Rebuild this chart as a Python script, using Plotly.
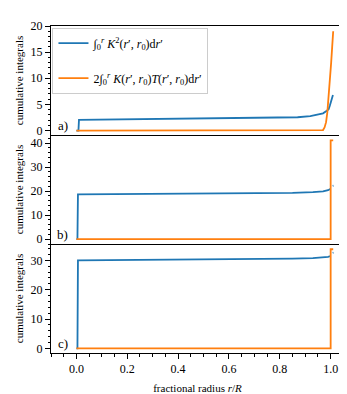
import plotly.graph_objects as go
from plotly.subplots import make_subplots

AZUL = "#1f77b4"
NARANJA = "#ff7f0e"
FUENTE = "Times New Roman, Liberation Serif, serif"

# panel a)
xa_k2 = [0.0, 0.008, 0.01, 0.1, 0.3, 0.5, 0.7, 0.8, 0.87, 0.92, 0.95, 0.97, 0.985, 0.992, 0.997, 1.003, 1.009]
ya_k2 = [0.0, 0.0, 2.05, 2.1, 2.2, 2.3, 2.4, 2.45, 2.55, 2.75, 3.0, 3.3, 3.8, 4.1, 4.8, 6.0, 6.8]
xa_kt = [0.0, 0.962, 0.97, 0.976, 0.982, 0.987, 0.992, 0.997, 1.002, 1.006, 1.01]
ya_kt = [0.0, 0.0, 0.1, 0.6, 1.6, 3.5, 6.2, 9.5, 13.0, 16.0, 19.0]

# panel b)
xb_k2 = [0.0, 0.004, 0.006, 0.1, 0.3, 0.5, 0.7, 0.85, 0.93, 0.97, 0.99, 1.0, None, 1.008, 1.011]
yb_k2 = [0.0, 0.0, 18.7, 18.75, 18.85, 18.95, 19.1, 19.3, 19.6, 19.9, 20.4, 21.0, None, 22.2, 22.3]
xb_kt = [0.0, 0.998, 1.0, 1.0, 1.01]
yb_kt = [0.0, 0.0, 0.0, 41.2, 41.2]

# panel c)
xc_k2 = [0.0, 0.004, 0.006, 0.1, 0.3, 0.5, 0.7, 0.85, 0.93, 0.97, 0.99, 1.0, None, 1.008, 1.011]
yc_k2 = [0.0, 0.0, 30.0, 30.05, 30.15, 30.25, 30.4, 30.6, 30.8, 31.0, 31.2, 31.5, None, 32.6, 32.7]
xc_kt = [0.0, 0.998, 1.0, 1.0, 1.01]
yc_kt = [0.0, 0.0, 0.0, 33.8, 33.8]

ETIQ_K2 = "∫<sub>0</sub><sup><i>r</i></sup> <i>K</i><sup>2</sup>(<i>r</i>′, <i>r</i><sub>0</sub>)d<i>r</i>′"
ETIQ_KT = ("2∫<sub>0</sub><sup><i>r</i></sup> <i>K</i>(<i>r</i>′, <i>r</i><sub>0</sub>)"
           "<i>T</i>(<i>r</i>′, <i>r</i><sub>0</sub>)d<i>r</i>′")

paneles = [
    (xa_k2, ya_k2, xa_kt, ya_kt, [-0.85, 20.0], 5, 1, "a)"),
    (xb_k2, yb_k2, xb_kt, yb_kt, [-2.0, 43.4], 10, 2, "b)"),
    (xc_k2, yc_k2, xc_kt, yc_kt, [-1.6, 35.6], 10, 2, "c)"),
]

fig = make_subplots(rows=3, cols=1, shared_xaxes=True, vertical_spacing=0)

for i, (x1, y1, x2, y2, rango, paso, menor, letra) in enumerate(paneles, start=1):
    fig.add_trace(go.Scatter(x=x1, y=y1, mode="lines", line=dict(color=AZUL, width=1.8),
                             name=ETIQ_K2, legendgroup="k2", showlegend=(i == 1)),
                  row=i, col=1)
    fig.add_trace(go.Scatter(x=x2, y=y2, mode="lines", line=dict(color=NARANJA, width=1.8),
                             name=ETIQ_KT, legendgroup="kt", showlegend=(i == 1)),
                  row=i, col=1)
    fig.update_yaxes(range=rango, dtick=paso, ticks="outside", ticklen=5, tickwidth=1,
                     tickcolor="black",
                     minor=dict(dtick=menor, ticks="outside", ticklen=2.5, tickwidth=1,
                                tickcolor="black"),
                     title=dict(text="cumulative integrals", font=dict(size=11), standoff=4),
                     row=i, col=1)
    fig.update_xaxes(mirror=(i == 1), row=i, col=1)
    fig.add_annotation(x=0.04, y=0.09, xref=f"x{'' if i == 1 else i} domain",
                       yref=f"y{'' if i == 1 else i} domain", text=letra, showarrow=False,
                       xanchor="center", yanchor="middle", font=dict(size=13))

fig.update_xaxes(range=[-0.1, 1.0525], showline=True, linecolor="black", linewidth=1,
                 showgrid=False, zeroline=False, ticks="", showticklabels=False)
fig.update_xaxes(ticks="outside", ticklen=5, tickwidth=1, tickcolor="black", dtick=0.2,
                 tickformat=".1f", showticklabels=True,
                 minor=dict(dtick=0.05, ticks="outside", ticklen=3, tickwidth=1,
                            tickcolor="black"),
                 title=dict(text="fractional radius <i>r</i>/<i>R</i>", font=dict(size=11), standoff=8),
                 row=3, col=1)
fig.update_yaxes(showline=True, linecolor="black", linewidth=1, mirror=True,
                 showgrid=False, zeroline=False)

fig.update_layout(
    width=347, height=394,
    margin=dict(t=18, b=40, l=43, r=10),
    plot_bgcolor="white", paper_bgcolor="white",
    font=dict(family=FUENTE, size=12, color="black"),
    legend=dict(x=0.005, y=0.995, xanchor="left", yanchor="top",
                bgcolor="rgba(255,255,255,0.8)", bordercolor="#cccccc", borderwidth=1,
                font=dict(size=12), tracegroupgap=16, itemwidth=30),
)

fig.write_html("out.html")
